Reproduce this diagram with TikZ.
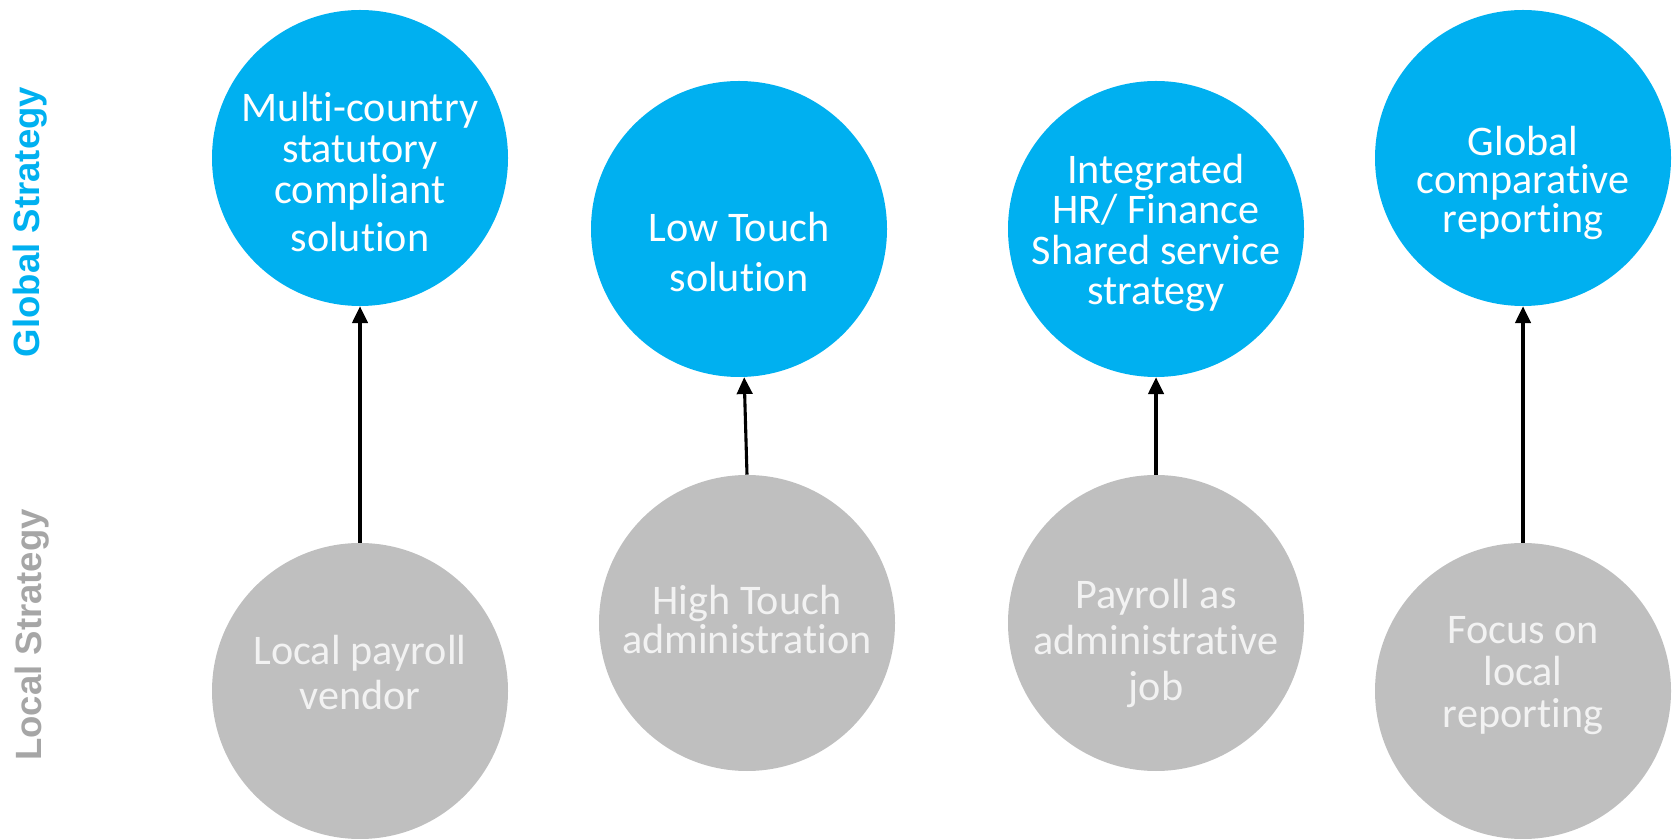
\documentclass[tikz,border=0pt]{standalone}
\usepackage{fontspec}
\setmainfont{Carlito}[Ligatures=NoCommon]
\newfontfamily\sidefont{Liberation Sans}
\usetikzlibrary{arrows.meta}
\definecolor{globalblue}{HTML}{00B0F0}
\definecolor{localgray}{HTML}{BFBFBF}
\definecolor{localtext}{HTML}{F2F2F2}
\definecolor{sidegray}{HTML}{A6A6A6}
% #1 raise of the first baseline, #2 line distance, #3 rows separated by \cr
\newcommand{\circletext}[3]{\raisebox{#1}[0pt][0pt]{\vtop{\baselineskip=#2
  \lineskiplimit=-\maxdimen\halign{\hfil##\hfil\cr#3\crcr}}}}

\begin{document}
\begin{tikzpicture}[
    global/.style={circle, fill=globalblue, minimum size=7.4cm, inner sep=0pt,
      text=white, font=\fontsize{30}{31.5}\selectfont},
    local/.style={circle, fill=localgray, minimum size=7.4cm, inner sep=0pt,
      text=localtext, font=\fontsize{30}{31.5}\selectfont},
    lift/.style={-{Triangle[width=11pt,length=12pt]}, line width=2.2pt},
    side/.style={rotate=90, font=\sidefont\bfseries\fontsize{26}{28}\selectfont}
  ]
  \useasboundingbox (0, 0) rectangle (41.825, 20.95);
  % side labels
  \node[side, text=globalblue] (globallbl) at (0.75, 15.4) {Global Strategy};
  \node[side, text=sidegray] (locallbl) at (0.8, 5.075) {Local Strategy};
  % global strategy
  \node[global] (multi) at (9.0, 17.0)
    {\circletext{26.2pt}{29.2pt}{Multi-country\cr statutory\cr compliant\cr\noalign{\vskip5pt}solution}};
  \node[global] (lowtouch) at (18.475, 15.225)
    {\circletext{-9.2pt}{35.6pt}{Low Touch\cr solution}};
  \node[global] (shared) at (28.9, 15.225)
    {\circletext{32.7pt}{28.9pt}{Integrated\cr HR/ Finance\cr Shared service\cr strategy}};
  \node[global] (compare) at (38.075, 17.0)
    {\circletext{2.1pt}{27.4pt}{Global\cr comparative\cr reporting}};
  % local strategy
  \node[local] (vendor) at (9.0, 3.675)
    {\circletext{18.6pt}{32pt}{Local payroll\cr vendor}};
  \node[local] (hightouch) at (18.675, 5.375)
    {\circletext{5.7pt}{27.7pt}{High Touch\cr administration}};
  \node[local] (admin) at (28.9, 5.375)
    {\circletext{10pt}{32.4pt}{Payroll as\cr administrative\cr job}};
  \node[local] (focus) at (38.075, 3.675)
    {\circletext{34.1pt}{29.9pt}{Focus on\cr local\cr reporting}};
  % arrows
  \draw[lift] (vendor) -- (multi);
  \draw[lift] (hightouch.north) -- (lowtouch.272);
  \draw[lift] (admin) -- (shared);
  \draw[lift] (focus) -- (compare);
\end{tikzpicture}
\end{document}
